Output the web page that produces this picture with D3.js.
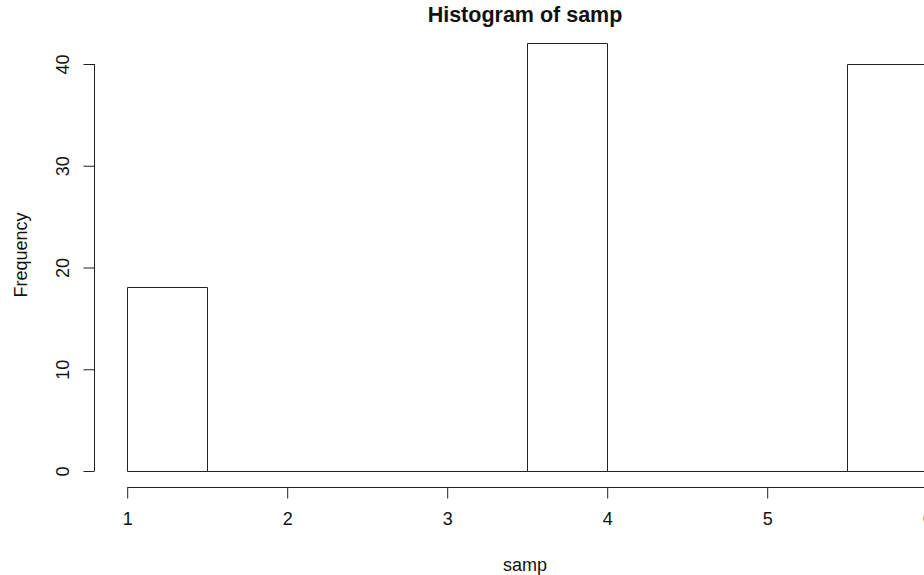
<!DOCTYPE html>
<html>
<head>
<meta charset="utf-8">
<script src="https://cdn.jsdelivr.net/npm/d3@7"></script>
<style>
  body { margin: 0; background: #fff; }
  svg { display: block; }
</style>
</head>
<body>
<svg></svg>
<script>
// histogram of samp, bins of width 0.5
var binStarts = [1, 1.5, 2, 2.5, 3, 3.5, 4, 4.5, 5, 5.5];
var binWidth = 0.5;
var counts = [18, 0, 0, 0, 0, 42, 0, 0, 0, 40];
var xTicks = [1, 2, 3, 4, 5, 6];
var yTicks = [0, 10, 20, 30, 40];

var width = 924, height = 575;
var font = '"Liberation Sans", Arial, sans-serif';
var ink = '#222';

var svg = d3.select('svg')
            .attr('width', width)
            .attr('height', height);

var xScale = d3.scaleLinear().domain([1, 6]).range([126.7, 926.7]);
var yScale = d3.scaleLinear().domain([0, 40]).range([470.5, 63.5]);

// bars as closed paths so empty bins still show on the baseline, like R
svg.selectAll('path.bar')
  .data(counts)
  .enter()
    .append('path')
    .attr('class', 'bar')
    .attr('d', (d, i) => {
      var x0 = Math.round(xScale(binStarts[i])) + 0.5;
      var x1 = Math.round(xScale(binStarts[i] + binWidth)) + 0.5;
      var y0 = Math.round(yScale(0)) + 0.5;
      var y1 = Math.round(yScale(d)) + 0.5;
      return `M${x0},${y0}V${y1}H${x1}V${y0}Z`;
    })
    .attr('fill', 'none')
    .attr('stroke', ink)
    .attr('stroke-width', 1);

// x axis
var xAxis = d3.axisBottom(xScale).tickValues(xTicks).tickSize(11).tickPadding(14).tickFormat(d3.format('d'));
var gx = svg.append('g')
  .attr('transform', 'translate(0.5,487.5)')
  .call(xAxis);
gx.select('.domain').attr('d', `M${xScale(1)},0H${xScale(6)}`);

// y axis
var yAxis = d3.axisLeft(yScale).tickValues(yTicks).tickSize(11).tickFormat(d3.format('d'));
var gy = svg.append('g')
  .attr('transform', 'translate(94.5,0.5)')
  .call(yAxis);
gy.select('.domain').attr('d', `M0,${yScale(0)}V${yScale(40)}`);
gy.selectAll('.tick text')
  .attr('x', 0)
  .attr('dy', 0)
  .attr('transform', 'translate(-26,0) rotate(-90)')
  .style('text-anchor', 'middle');

svg.selectAll('.domain, .tick line').attr('stroke', ink);
svg.selectAll('.tick text')
  .attr('fill', '#111')
  .style('font-family', font)
  .style('font-size', '18px');

// labels
svg.append('text')
  .attr('x', 525)
  .attr('y', 22)
  .style('text-anchor', 'middle')
  .style('font-family', font)
  .style('font-weight', 'bold')
  .style('font-size', '21.5px')
  .attr('fill', '#111')
  .text('Histogram of samp');

svg.append('text')
  .attr('x', 525)
  .attr('y', 571)
  .style('text-anchor', 'middle')
  .style('font-family', font)
  .style('font-size', '18px')
  .attr('fill', '#111')
  .text('samp');

svg.append('text')
  .attr('transform', 'translate(27,255) rotate(-90)')
  .style('text-anchor', 'middle')
  .style('font-family', font)
  .style('font-size', '18px')
  .attr('fill', '#111')
  .text('Frequency');
</script>
</body>
</html>
